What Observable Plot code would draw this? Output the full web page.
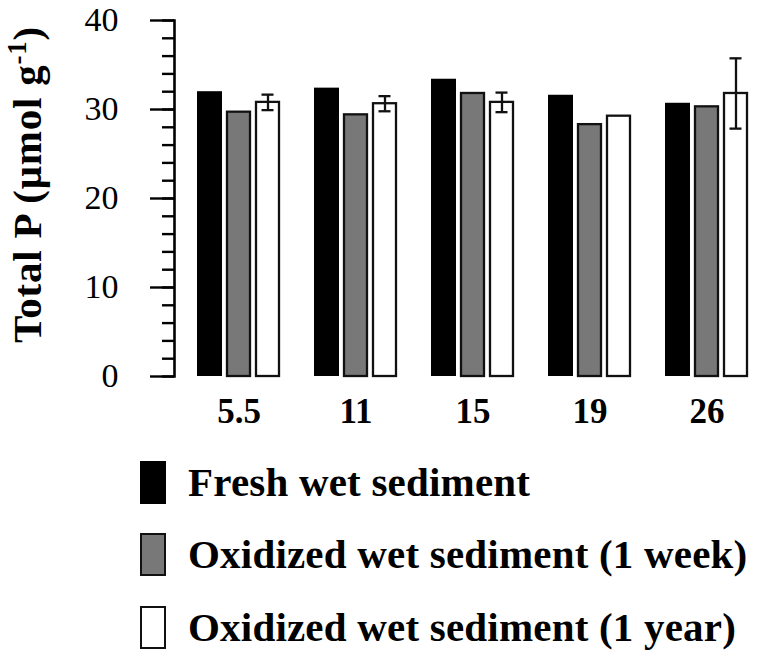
<!DOCTYPE html>
<html>
<head>
<meta charset="utf-8">
<script src="https://cdn.jsdelivr.net/npm/d3@7"></script>
<script src="https://cdn.jsdelivr.net/npm/@observablehq/plot@0.6"></script>
<style>
  html, body { margin: 0; padding: 0; background: #fff; }
  body { width: 758px; height: 658px; overflow: hidden; font-family: "Liberation Serif", "Times New Roman", serif; }
  .row { display: flex; align-items: center; height: 72.5px; }
  .sw { width: 26px; height: 43px; box-sizing: border-box; margin-left: 140px; }
  .lab { margin-left: 22px; font-size: 41px; letter-spacing: 0.2px; font-weight: bold; line-height: 1; color: #000; white-space: nowrap; }
</style>
</head>
<body>
<div id="chart"></div>
<div id="legend"></div>
<script>
// ---- data ----
const depths = ["5.5", "11", "15", "19", "26"];
const freshWet = [32.0, 32.4, 33.4, 31.6, 30.7];
const oxidizedWeek = [29.7, 29.4, 31.8, 28.3, 30.3];
const oxidizedYear = [30.8, 30.65, 30.8, 29.25, 31.8];
const oxidizedYearErr = [0.87, 0.85, 1.1, 0, 3.95];
const yTicks = [0, 10, 20, 30, 40];
const seriesNames = ["Fresh wet sediment", "Oxidized wet sediment (1 week)", "Oxidized wet sediment (1 year)"];
const seriesFill = ["#000000", "#787878", "#ffffff"];
const seriesStroke = ["#000000", "#111111", "#111111"];
const yLabel = "Total P (μmol g-1)";

const rows = depths.map((d, i) => ({
  depth: d, fresh: freshWet[i], week: oxidizedWeek[i], year: oxidizedYear[i], err: oxidizedYearErr[i]
}));
const errRows = rows.filter(r => r.err > 0);

const serif = "'Liberation Serif', 'Times New Roman', serif";

const plot = Plot.plot({
  width: 758,
  height: 446,
  marginLeft: 174,
  marginRight: 10,
  marginTop: 20,
  marginBottom: 70,
  style: { fontFamily: serif, background: "#fff", color: "#000" },
  x: { domain: depths, paddingInner: 34 / 118, paddingOuter: 0.0763, align: 1, label: null },
  y: { domain: [0, 40], label: null },
  marks: [
    Plot.axisY({ ticks: d3.range(0, 41, 2), tickSize: 12, tickFormat: () => "", strokeWidth: 2.4 }),
    Plot.axisY({ ticks: yTicks, tickSize: 24, tickPadding: 32, fontSize: 34, strokeWidth: 2.4, label: null }),
    Plot.frame({ anchor: "left", strokeWidth: 2.6 }),
    Plot.axisX({ tickSize: 0, tickPadding: 22, fontSize: 35, fontWeight: "bold", label: null }),
    Plot.barY(rows, { x: "depth", y: "fresh", fill: seriesFill[0], insetRight: 58 }),
    Plot.barY(rows, { x: "depth", y: "week", fill: seriesFill[1], stroke: seriesStroke[1], strokeWidth: 2.3, insetLeft: 30, insetRight: 30 }),
    Plot.barY(rows, { x: "depth", y: "year", fill: seriesFill[2], stroke: seriesStroke[2], strokeWidth: 2.3, insetLeft: 59, insetRight: 1 }),
    Plot.ruleX(errRows, { x: "depth", y1: d => d.year - d.err, y2: d => d.year + d.err, dx: 29, stroke: "#111", strokeWidth: 2.3 }),
    Plot.tickY(errRows, { x: "depth", y: d => d.year - d.err, insetLeft: 64.5, insetRight: 6.5, stroke: "#111", strokeWidth: 2.3 }),
    Plot.tickY(errRows, { x: "depth", y: d => d.year + d.err, insetLeft: 64.5, insetRight: 6.5, stroke: "#111", strokeWidth: 2.3 }),
    Plot.text([yLabel], { frameAnchor: "left", rotate: -90, dx: -147, dy: -14, fontSize: 41, fontWeight: "bold", textAnchor: "middle", lineAnchor: "middle", fill: "#000", className: "ylabel" })
  ]
});
document.getElementById("chart").appendChild(plot);

// superscript for the unit exponent, and a little letter spacing
const yl = plot.querySelector(".ylabel text");
if (yl) {
  yl.setAttribute("letter-spacing", "0.8");
  const full = yl.textContent;
  const idx = full.lastIndexOf("-1");
  if (idx > 0) {
    yl.textContent = "";
    const ns = "http://www.w3.org/2000/svg";
    const a = document.createElementNS(ns, "tspan"); a.textContent = full.slice(0, idx);
    const b = document.createElementNS(ns, "tspan"); b.textContent = "-1";
    b.setAttribute("font-size", "27"); b.setAttribute("dy", "-15");
    const c = document.createElementNS(ns, "tspan"); c.textContent = full.slice(idx + 2);
    c.setAttribute("dy", "15");
    yl.appendChild(a); yl.appendChild(b); yl.appendChild(c);
  }
}

// legend
const legend = document.getElementById("legend");
seriesNames.forEach((name, i) => {
  const row = document.createElement("div"); row.className = "row";
  const sw = document.createElement("div"); sw.className = "sw";
  sw.style.background = seriesFill[i];
  sw.style.border = i === 0 ? "none" : `2.3px solid ${seriesStroke[i]}`;
  const lab = document.createElement("div"); lab.className = "lab"; lab.textContent = name;
  row.appendChild(sw); row.appendChild(lab);
  legend.appendChild(row);
});
</script>
</body>
</html>
